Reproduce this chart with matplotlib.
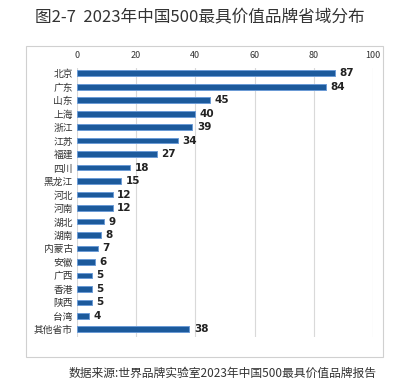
import matplotlib.pyplot as plt
from matplotlib.patches import Rectangle

plt.rcParams['font.family'] = ['Noto Sans CJK SC', 'DejaVu Sans']

# --- DATA ---
provinces = ['北京', '广东', '山东', '上海', '浙江', '江苏', '福建', '四川', '黑龙江', '河北',
             '河南', '湖北', '湖南', '内蒙古', '安徽', '广西', '香港', '陕西', '台湾', '其他省市']
counts = [87, 84, 45, 40, 39, 34, 27, 18, 15, 12, 12, 9, 8, 7, 6, 5, 5, 5, 4, 38]
x_ticks = [0, 20, 40, 60, 80, 100]

W, H = 400, 388
fig = plt.figure(figsize=(W / 100, H / 100), dpi=100)
fig.patch.set_facecolor('white')

# outer frame
fig.patches.append(Rectangle((26 / W, 1 - 357 / H), (383 - 26) / W, (357 - 46) / H,
                             transform=fig.transFigure, fill=False,
                             edgecolor='#d0d0d0', linewidth=0.8))

ax = fig.add_axes([77 / W, 1 - 337 / H, (373 - 77) / W, (337 - 68) / H])
y = list(range(len(provinces)))
ax.barh(y, counts, height=0.42, color='#1c5a9c', edgecolor='#6b9bd6', linewidth=0.7)
for yi, v in zip(y, counts):
    ax.text(v + 1.5, yi, str(v), va='center', ha='left', fontsize=7.5, fontweight='bold',
            color='#222222', family=['DejaVu Sans'])

ax.set_xlim(0, 100)
ax.set_ylim(19.57, -0.39)
ax.set_yticks(y)
ax.set_yticklabels(provinces, fontsize=7, color='#333333')
ax.set_xticks(x_ticks)
ax.set_xticklabels([str(t) for t in x_ticks], fontsize=6.5, color='#333333')
ax.xaxis.tick_top()
ax.tick_params(axis='both', length=0, pad=3)
ax.tick_params(axis='x', pad=6)
ax.grid(axis='x', color='#d9d9d9', linewidth=0.8)
ax.set_axisbelow(True)
for s in ax.spines.values():
    s.set_visible(False)

fig.text(0.5, 1 - 18 / H, '图2-7  2023年中国500最具价值品牌省域分布', ha='center', va='center',
         fontsize=12, color='#333333')
fig.text(377 / W, 1 - 373 / H, '数据来源:世界品牌实验室2023年中国500最具价值品牌报告',
         ha='right', va='center', fontsize=8.5, color='#333333')

fig.savefig('out.png', dpi=100, facecolor='white')
